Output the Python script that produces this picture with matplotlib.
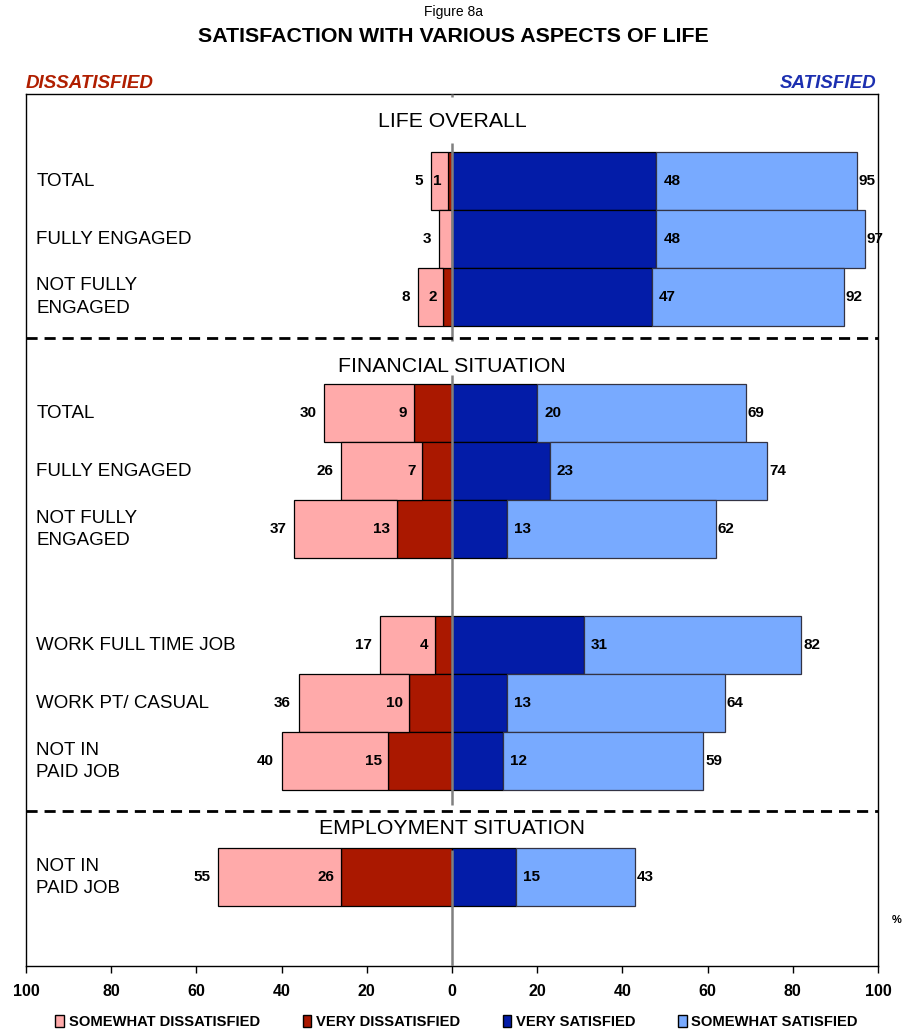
import matplotlib
matplotlib.use('Agg')
import matplotlib.pyplot as plt
from matplotlib.patches import Patch

plt.rcParams['font.family'] = ['Liberation Sans', 'DejaVu Sans']

# ---- data -------------------------------------------------------------
sections = ['LIFE OVERALL', 'FINANCIAL SITUATION', 'EMPLOYMENT SITUATION']
categories = ['TOTAL', 'FULLY ENGAGED', 'NOT FULLY\nENGAGED',
              'TOTAL', 'FULLY ENGAGED', 'NOT FULLY\nENGAGED',
              'WORK FULL TIME JOB', 'WORK PT/ CASUAL', 'NOT IN\nPAID JOB',
              'NOT IN\nPAID JOB']
row_section = [0, 0, 0, 1, 1, 1, 1, 1, 1, 2]
row_block = [0, 0, 0, 1, 1, 1, 2, 2, 2, 3]
dissatisfied_total = [5, 3, 8, 30, 26, 37, 17, 36, 40, 55]
very_dissatisfied = [1, 0, 2, 9, 7, 13, 4, 10, 15, 26]
very_satisfied = [48, 48, 47, 20, 23, 13, 31, 13, 12, 15]
satisfied_total = [95, 97, 92, 69, 74, 62, 82, 64, 59, 43]
tick_values = [-100, -80, -60, -40, -20, 0, 20, 40, 60, 80, 100]

# ---- colours ----------------------------------------------------------
C_SOME_DIS = '#FFAAAA'
C_VERY_DIS = '#AA1800'
C_VERY_SAT = '#031CA8'
C_SOME_SAT = '#78AAFF'

fig = plt.figure(figsize=(9.06, 10.32), dpi=100)
ax = fig.add_axes([26 / 906, 1 - 966 / 1032, 852 / 906, 872 / 1032])
Y_BOTTOM = 15.03

ypos = [1.5 + i + b for i, b in enumerate(row_block)]

some_dis = [t - v for t, v in zip(dissatisfied_total, very_dissatisfied)]
some_sat = [t - v for t, v in zip(satisfied_total, very_satisfied)]
neg_vd = [-v for v in very_dissatisfied]

ax.barh(ypos, neg_vd, height=1.0, color=C_VERY_DIS, edgecolor='black', lw=0.9, zorder=2)
ax.barh(ypos, [-s for s in some_dis], left=neg_vd, height=1.0, color=C_SOME_DIS,
        edgecolor='black', lw=0.9, zorder=2)
ax.barh(ypos, very_satisfied, height=1.0, color=C_VERY_SAT, edgecolor='black', lw=0.9, zorder=2)
ax.barh(ypos, some_sat, left=very_satisfied, height=1.0, color=C_SOME_SAT,
        edgecolor='#333344', lw=0.9, zorder=2)

lab_kw = dict(fontsize=11, fontweight='bold', va='center', zorder=7)
for y, dt, vd, vs, st in zip(ypos, dissatisfied_total, very_dissatisfied,
                             very_satisfied, satisfied_total):
    ax.text(-dt - 1.8, y, str(dt), ha='right', **lab_kw)
    if vd > 0:
        ax.text(-vd - 1.5, y, str(vd), ha='right', **lab_kw)
    ax.text(vs + 1.6, y, str(vs), ha='left', **lab_kw)
    ax.text(st + 0.4, y, str(st), ha='left', **lab_kw)

# category labels on the left
for y, cat in zip(ypos, categories):
    ax.text(-97.6, y, cat, ha='left', va='center', fontsize=13.5,
            linespacing=1.4, zorder=7)

# section separators and headings
for ysep in [4.2, 12.35]:
    ax.axhline(ysep, color='black', lw=2.0, dashes=(4, 2.5), zorder=6)

first_rows = [ypos[row_section.index(s)] for s in range(len(sections))]
last_rows = [ypos[len(row_section) - 1 - row_section[::-1].index(s)]
             for s in range(len(sections))]
title_offsets = [1.02, 0.8, 0.84]
for name, y0, off in zip(sections, first_rows, title_offsets):
    ax.text(0, y0 - off, name, ha='center', va='center', fontsize=15.3, zorder=7)

# centre line, broken around the section headings
ax.vlines(0, 0, 0.06, color='#808080', lw=1.8, zorder=5)
for s, (y0, y1) in enumerate(zip(first_rows, last_rows)):
    start = y0 - (0.65 if s < 2 else 0.47)
    end = y1 + 0.75 if s < len(sections) - 1 else Y_BOTTOM
    ax.vlines(0, start, end, color='#808080', lw=1.8, zorder=5)

ax.set_xlim(-100, 100)
ax.set_ylim(Y_BOTTOM, 0)
ax.set_yticks([])
ax.set_xticks(tick_values)
ax.set_xticklabels([str(abs(v)) for v in tick_values], fontsize=11.5, fontweight='bold')
ax.tick_params(axis='x', direction='out', length=5, pad=8, width=1)
for sp in ax.spines.values():
    sp.set_linewidth(1.0)
    sp.set_color('black')

# figure texts
fig.text(0.5, 1 - 12 / 1032, 'Figure 8a', ha='center', va='center', fontsize=10)
fig.text(0.5, 1 - 37 / 1032, 'SATISFACTION WITH VARIOUS ASPECTS OF LIFE', ha='center',
         va='center', fontsize=15.4, fontweight='bold')
fig.text(26 / 906, 1 - 84 / 1032, 'DISSATISFIED', ha='left', va='center', fontsize=13.5,
         fontweight='bold', fontstyle='italic', color='#B01E00')
fig.text(876 / 906, 1 - 84 / 1032, 'SATISFIED', ha='right', va='center', fontsize=13.5,
         fontweight='bold', fontstyle='italic', color='#1C2FB0')
fig.text(897 / 906, 1 - 920 / 1032, '%', ha='center', va='center', fontsize=8,
         fontweight='bold')

handles = [Patch(facecolor=C_SOME_DIS, edgecolor='black', label='SOMEWHAT DISSATISFIED'),
           Patch(facecolor=C_VERY_DIS, edgecolor='black', label='VERY DISSATISFIED'),
           Patch(facecolor=C_VERY_SAT, edgecolor='black', label='VERY SATISFIED'),
           Patch(facecolor=C_SOME_SAT, edgecolor='black', label='SOMEWHAT SATISFIED')]
fig.legend(handles=handles, loc='center', bbox_to_anchor=(0.504, 1 - 1022 / 1032), ncol=4,
           frameon=False, handlelength=0.6, handleheight=0.8, handletextpad=0.3,
           columnspacing=2.9, prop=dict(size=10.6, weight='bold'))

fig.savefig('out.png', dpi=100)
